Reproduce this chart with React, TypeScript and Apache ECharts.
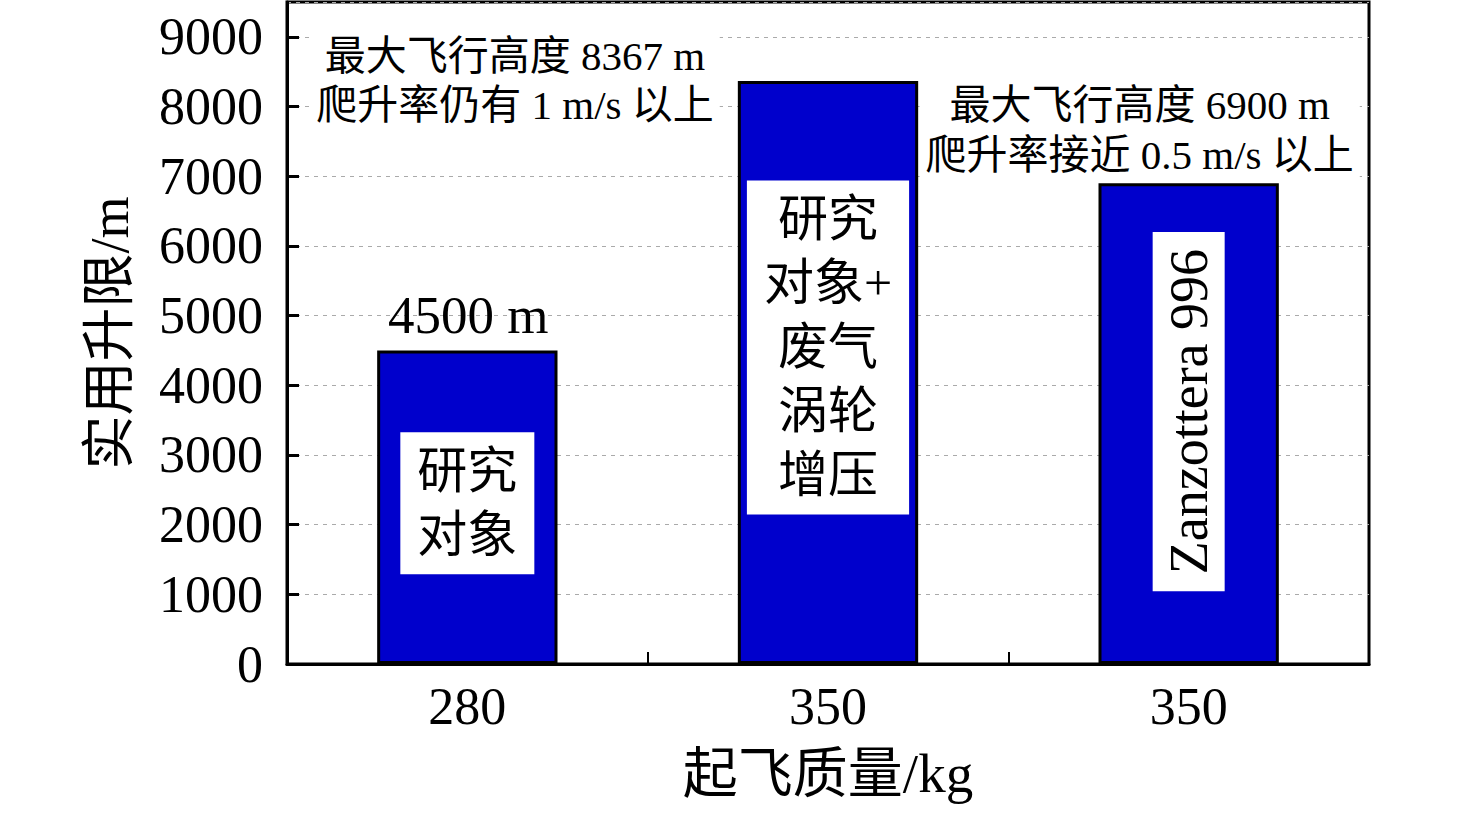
import React, { useEffect, useRef } from "react";
import * as echarts from "echarts";

const categories = ["280", "350", "350"];
const ceilingValues = [4500, 8367, 6900];
const barLabels = ["研究\n对象", "研究\n对象+\n废气\n涡轮\n增压", "Zanzottera 996"];
const topNotes = [
  "4500 m",
  "最大飞行高度 8367 m\n爬升率仍有 1 m/s 以上",
  "最大飞行高度 6900 m\n爬升率接近 0.5 m/s 以上",
];
const yTicks = [0, 1000, 2000, 3000, 4000, 5000, 6000, 7000, 8000, 9000];

const FONT = "'Liberation Serif', 'Times New Roman', 'Noto Sans CJK SC', serif";

export default function App() {
  const ref = useRef<HTMLDivElement>(null);
  useEffect(() => {
    document.body.style.margin = "0";
    const chart = echarts.init(ref.current!, null, { renderer: "svg" });

    const barLabelCfg = [
      { offset: [0, -4], rotate: 0, lineHeight: 64, padding: [7, 17] },
      { offset: [0, -25], rotate: 0, lineHeight: 64, padding: [7, 17] },
      { offset: [12, 0], rotate: 90, lineHeight: 60, padding: [6, 17] },
    ];
    const noteCfg = [
      { offset: [1, -35], fontSize: 53, lineHeight: 56, bg: "transparent" },
      { offset: [-313, 0], fontSize: 41, lineHeight: 49, bg: "#ffffff" },
      { offset: [-49, -53], fontSize: 41, lineHeight: 50, bg: "#ffffff" },
    ];

    const barData = ceilingValues.map((v, i) => ({
      value: v,
      label: {
        show: true,
        position: "inside",
        formatter: barLabels[i],
        rotate: barLabelCfg[i].rotate,
        offset: barLabelCfg[i].offset,
        lineHeight: barLabelCfg[i].lineHeight,
        padding: barLabelCfg[i].padding,
        backgroundColor: "#ffffff",
        color: "#000",
        fontSize: i === 2 ? 54 : 50,
        fontFamily: FONT,
        align: "center",
        verticalAlign: "middle",
      },
    }));

    const noteData = ceilingValues.map((v, i) => ({
      value: v,
      label: {
        show: true,
        position: "inside",
        formatter: topNotes[i],
        offset: noteCfg[i].offset,
        fontSize: noteCfg[i].fontSize,
        lineHeight: noteCfg[i].lineHeight,
        backgroundColor: noteCfg[i].bg,
        padding: [2, 6],
        color: "#000",
        opacity: 1,
        fontFamily: FONT,
        align: "center",
        verticalAlign: "middle",
      },
    }));

    chart.setOption({
      animation: false,
      backgroundColor: "#ffffff",
      textStyle: { fontFamily: FONT },
      grid: {
        left: 287,
        right: 107,
        top: 2,
        bottom: 150,
        show: true,
        borderColor: "#000",
        borderWidth: 3,
        backgroundColor: "transparent",
      },
      xAxis: {
        type: "category",
        data: categories,
        boundaryGap: true,
        name: "起飞质量/kg",
        nameLocation: "middle",
        nameGap: 82,
        nameTextStyle: { fontSize: 55, color: "#000", fontFamily: FONT },
        axisLine: { show: true, lineStyle: { color: "#000", width: 3 } },
        axisTick: { show: true, inside: true, length: 12, lineStyle: { color: "#000", width: 2 } },
        axisLabel: { fontSize: 52, color: "#000", margin: 16, fontFamily: FONT },
        splitLine: { show: false },
      },
      yAxis: {
        type: "value",
        min: 0,
        max: 9500,
        interval: 1000,
        name: "实用升限/m",
        nameLocation: "middle",
        nameGap: 150,
        nameTextStyle: { fontSize: 54, color: "#000", fontFamily: FONT },
        axisLine: { show: true, lineStyle: { color: "#000", width: 3 } },
        axisTick: { show: true, inside: true, length: 12, lineStyle: { color: "#000", width: 3 } },
        axisLabel: {
          fontSize: 52,
          color: "#000",
          margin: 24,
          fontFamily: FONT,
          showMaxLabel: false,
          formatter: (v: number) => (yTicks.indexOf(v) >= 0 ? String(v) : ""),
        },
        splitLine: { show: true, lineStyle: { color: "#aaaaaa", width: 1, type: [4, 5] } },
      },
      series: [
        {
          type: "bar",
          data: barData,
          barWidth: "50%",
          itemStyle: { color: "#0000cc", borderColor: "#000", borderWidth: 3 },
          z: 2,
        },
        {
          type: "scatter",
          data: noteData,
          symbolSize: 1,
          itemStyle: { color: "rgba(0,0,0,0)", opacity: 1 },
          silent: true,
          z: 5,
        },
      ],
    });
    return () => chart.dispose();
  }, []);
  return (
    <div
      ref={ref}
      style={{ position: "fixed", left: 0, top: 0, width: 1476, height: 814, background: "#fff" }}
    />
  );
}
